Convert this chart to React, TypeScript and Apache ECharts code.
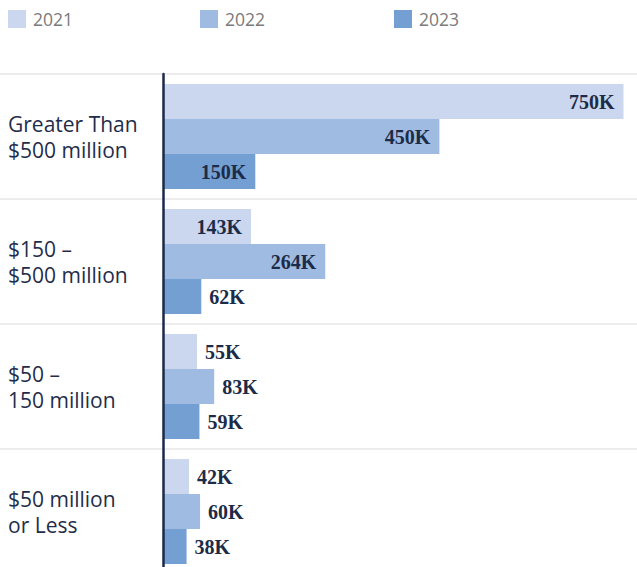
import React, { useEffect, useRef } from "react";
import * as echarts from "echarts";

const categories = ["Greater Than\n$500 million", "$150 –\n$500 million", "$50 –\n150 million", "$50 million\nor Less"];
const seriesNames = ["2021", "2022", "2023"];
const values2021 = [750, 143, 55, 42];
const values2022 = [450, 264, 83, 60];
const values2023 = [150, 62, 59, 38];
const colors = ["#cad7ee", "#9fbbe2", "#739fd3"];

export default function App() {
  const ref = useRef<HTMLDivElement>(null);
  useEffect(() => {
    const chart = echarts.init(ref.current!, null, { renderer: "svg" });
    const all = [values2021, values2022, values2023];
    const mkData = (arr: number[]) =>
      arr.map((v) => ({
        value: v,
        label: v >= 100
          ? { position: "insideRight", distance: 9 }
          : { position: "right", distance: 8 },
      }));
    const legendLefts = [3, 195, 389];
    chart.setOption({
      animation: false,
      legend: seriesNames.map((n, i) => ({
        data: [n],
        left: legendLefts[i],
        top: 5,
        itemWidth: 18,
        itemHeight: 18,
        icon: "rect",
        itemStyle: { borderWidth: 0 },
        textStyle: { fontFamily: "Open Sans", fontSize: 17.5, color: "#7a7a7a", padding: [0, 0, 0, 2] },
        selectedMode: false,
      })),
      grid: { left: 0, right: 0, top: 74, height: 500, containLabel: false, outerBoundsMode: "none" },
      xAxis: {
        type: "value",
        min: -266,
        max: 772,
        show: false,
        splitLine: { show: false },
      },
      yAxis: {
        type: "category",
        data: categories,
        inverse: true,
        z: 5,
        axisLine: { show: true, onZero: true, lineStyle: { color: "#1b2a4a", width: 2.5 } },
        axisTick: { show: false },
        splitLine: { show: true, lineStyle: { color: "#e6e6e6", width: 1.5 } },
        axisLabel: {
          align: "left",
          margin: -8,
          fontFamily: "Open Sans",
          fontSize: 21,
          lineHeight: 26,
          padding: [0, 0, 4, 0],
          color: "#1f2d4a",
        },
      },
      series: seriesNames.map((n, i) => ({
        name: n,
        type: "bar",
        data: mkData(all[i]),
        barWidth: 35,
        barGap: "0%",
        itemStyle: { color: colors[i] },
        label: {
          show: true,
          formatter: "{c}K",
          fontFamily: "Liberation Serif",
          fontWeight: "bold",
          fontSize: 20,
          color: "#1b2b48",
        },
      })),
    });
    return () => chart.dispose();
  }, []);
  return (
    <div
      ref={ref}
      style={{ position: "absolute", left: 0, top: 0, width: 637, height: 567 }}
    />
  );
}
